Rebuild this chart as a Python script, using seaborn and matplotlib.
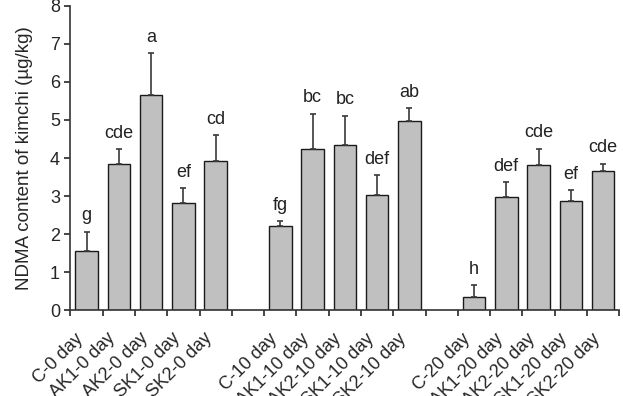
import numpy as np
import pandas as pd
import seaborn as sns
import matplotlib.pyplot as plt

# --- data ---
samples = ['C-0 day', 'AK1-0 day', 'AK2-0 day', 'SK1-0 day', 'SK2-0 day',
           'C-10 day', 'AK1-10 day', 'AK2-10 day', 'SK1-10 day', 'SK2-10 day',
           'C-20 day', 'AK1-20 day', 'AK2-20 day', 'SK1-20 day', 'SK2-20 day']
ndma = [1.55, 3.84, 5.66, 2.81, 3.92,
        2.22, 4.25, 4.34, 3.03, 4.98,
        0.34, 2.97, 3.81, 2.86, 3.65]
sd = [0.51, 0.39, 1.09, 0.39, 0.68,
      0.12, 0.92, 0.77, 0.51, 0.33,
      0.31, 0.39, 0.43, 0.29, 0.20]
letters = ['g', 'cde', 'a', 'ef', 'cd',
           'fg', 'bc', 'bc', 'def', 'ab',
           'h', 'def', 'cde', 'ef', 'cde']

# empty slots between storage days
order = samples[:5] + [' '] + samples[5:10] + ['  '] + samples[10:]

df = pd.DataFrame({'sample': samples, 'ndma': ndma, 'sd': sd, 'letter': letters})

sns.set_style('ticks')
plt.rcParams['font.family'] = ['Liberation Sans', 'DejaVu Sans']
plt.rcParams['font.size'] = 13

fig = plt.figure(figsize=(6.23, 3.96), dpi=100)
ax = fig.add_axes([0.113, 0.217, 0.881, 0.768])

sns.barplot(data=df, x='sample', y='ndma', order=order, color='#c0c0c0',
            saturation=1, width=0.7, edgecolor='#1a1a1a', linewidth=1.0,
            errorbar=None, ax=ax)

# one-sided error bars placed on the categorical positions
pos = [order.index(s) for s in df['sample']]
ax.errorbar(pos, df['ndma'], yerr=[np.zeros(len(df)), df['sd']], fmt='none',
            ecolor='#3a3a3a', elinewidth=1.2, capsize=2.5, capthick=1.2, zorder=3)

for p, v, e, lab in zip(pos, df['ndma'], df['sd'], df['letter']):
    ax.text(p, v + e + 0.2, lab, ha='center', va='bottom', fontsize=13, color='#222222')

ax.set_ylim(0, 8)
ax.set_xlim(-0.5, len(order) - 0.5)
ax.set_yticks(range(0, 9))
ax.set_ylabel('NDMA content of kimchi (µg/kg)', fontsize=13.5, labelpad=12)
ax.set_xlabel('')

# labels at bar centres, tick marks on slot edges
ax.set_xticks(range(len(order)))
ax.set_xticklabels(order, rotation=45, ha='right', va='bottom', rotation_mode='anchor')
ax.tick_params(axis='x', which='major', length=0, pad=23, labelsize=13)
ax.set_xticks(np.arange(-0.5, len(order)), minor=True)
ax.tick_params(axis='x', which='minor', length=4, width=1.2, direction='out')
ax.tick_params(axis='y', length=4, width=1.2, direction='out', labelsize=13)

for side in ['left', 'bottom']:
    ax.spines[side].set_linewidth(1.2)
    ax.spines[side].set_color('#333333')
sns.despine(ax=ax)

fig.savefig('out.png', dpi=100)
